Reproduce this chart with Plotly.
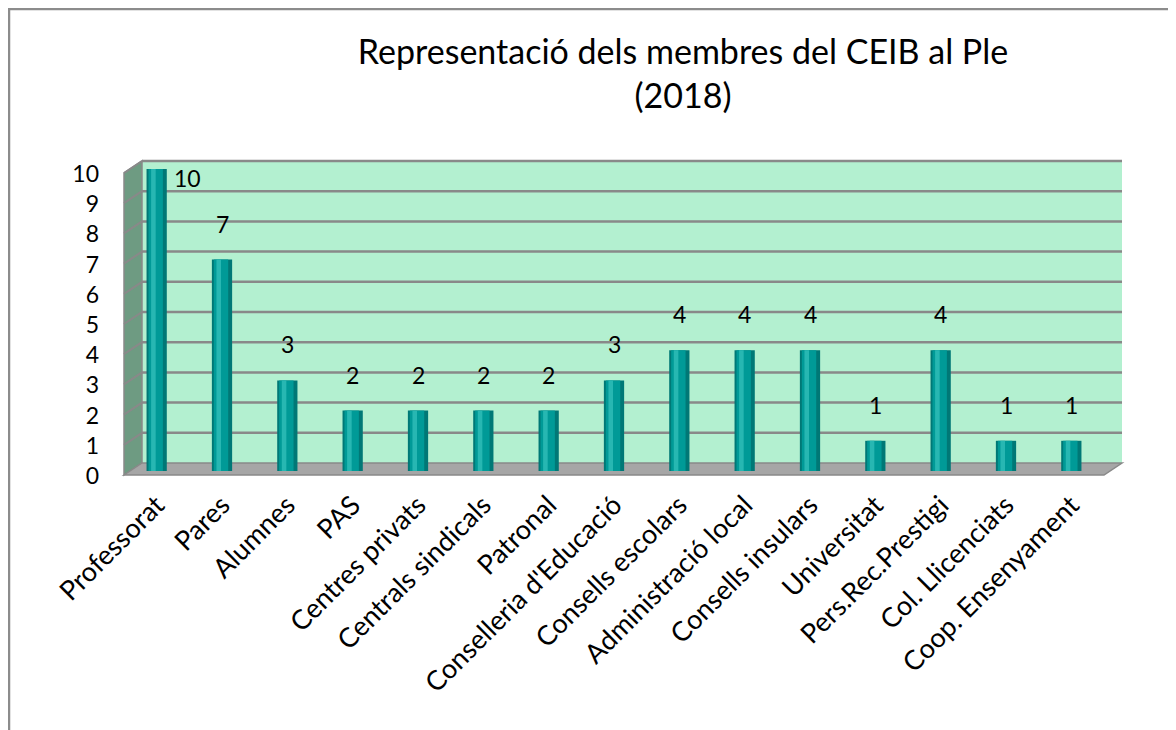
import plotly.graph_objects as go

categories = ["Professorat", "Pares", "Alumnes", "PAS", "Centres privats",
              "Centrals sindicals", "Patronal", "Conselleria d'Educació",
              "Consells escolars", "Administració local", "Consells insulars",
              "Universitat", "Pers.Rec.Prestigi", "Col. Llicenciats",
              "Coop. Ensenyament"]
values = [10, 7, 3, 2, 2, 2, 2, 3, 4, 4, 4, 1, 4, 1, 1]
y_ticks = list(range(0, 11))
title_line1 = "Representació dels membres del CEIB al Ple"
title_line2 = "(2018)"

# page body has an 8px margin: work in screen pixels, shrink the figure
OFF = 8
SCR_W, SCR_H = 1176, 730
FIG_W, FIG_H = SCR_W - OFF, SCR_H - OFF
L, R, T, B = 124, 1122, 161, 475      # screen px of the paper area
W, H = R - L, B - T

# 3D box geometry (screen px)
FRONT_X, BACK_X = 124, 142
FRONT_Y0, FRONT_Y10 = 475, 173
BACK_Y0, BACK_Y10 = 463, 161
BAR_Y0, BAR_Y10 = 471, 169


def px(x):
    return (x - L) / W


def py(y):
    return (B - y) / H


FONT = "Lato"
GRID = "#898989"
fig = go.Figure()

# cylinder-like bars: dark body, lighter core, highlight
bar_layers = [
    (0.31, -0.155, "#007876"),
    (0.22, -0.125, "#009A97"),
    (0.07, -0.085, "#27B7B2"),
]
for w, off, col in bar_layers:
    fig.add_trace(go.Bar(
        x=categories, y=values, width=w, offset=off,
        marker=dict(color=col, line=dict(width=0)),
        hoverinfo="x+y", showlegend=False,
    ))

vmax = max(values)
for c, v in zip(categories, values):
    if v == vmax:
        fig.add_annotation(x=c, y=v, text=str(v), showarrow=False,
                           xshift=31, yshift=-9,
                           font=dict(family=FONT, size=23, color="#000"))
    else:
        fig.add_annotation(x=c, y=v, text=str(v), showarrow=False,
                           yshift=36,
                           font=dict(family=FONT, size=23, color="#000"))

shapes = []
# chart frame (left and top edges)
shapes.append(dict(type="path", xref="paper", yref="paper",
                   path=f"M {px(9)} {py(740)} L {px(9)} {py(9)} L {px(1190)} {py(9)}",
                   line=dict(color="#8C8C8C", width=2.5), layer="below"))
# back wall
shapes.append(dict(type="rect", xref="paper", yref="paper",
                   x0=px(BACK_X), x1=px(R), y0=py(BACK_Y0), y1=py(BACK_Y10),
                   fillcolor="#B3F0D0", line=dict(width=0), layer="below"))
# side wall
shapes.append(dict(type="path", xref="paper", yref="paper",
                   path=(f"M {px(FRONT_X)} {py(FRONT_Y0)} L {px(BACK_X)} {py(BACK_Y0)} "
                         f"L {px(BACK_X)} {py(BACK_Y10)} L {px(FRONT_X)} {py(FRONT_Y10)} Z"),
                   fillcolor="#6E9B82", line=dict(color=GRID, width=1.5),
                   layer="below"))
# floor
shapes.append(dict(type="path", xref="paper", yref="paper",
                   path=(f"M {px(FRONT_X)} {py(FRONT_Y0)} L {px(BACK_X)} {py(BACK_Y0)} "
                         f"L {px(R)} {py(BACK_Y0)} L {px(R - (BACK_X - FRONT_X))} {py(FRONT_Y0)} Z"),
                   fillcolor="#A6A6A6", line=dict(color=GRID, width=1.5),
                   layer="below"))
# grid lines on back wall and side wall
for k in y_ticks[1:]:
    yb = BACK_Y0 - (BACK_Y0 - BACK_Y10) * k / 10
    yf = FRONT_Y0 - (FRONT_Y0 - FRONT_Y10) * k / 10
    shapes.append(dict(type="line", xref="paper", yref="paper",
                       x0=px(BACK_X), y0=py(yb), x1=px(R), y1=py(yb),
                       line=dict(color=GRID, width=2.5), layer="below"))
    shapes.append(dict(type="line", xref="paper", yref="paper",
                       x0=px(FRONT_X), y0=py(yf), x1=px(BACK_X), y1=py(yb),
                       line=dict(color=GRID, width=2), layer="below"))

fig.update_layout(
    width=FIG_W, height=FIG_H,
    margin=dict(l=L - OFF, r=FIG_W - (R - OFF), t=T - OFF,
                b=FIG_H - (B - OFF), pad=0),
    paper_bgcolor="white", plot_bgcolor="rgba(0,0,0,0)",
    barmode="overlay",
    showlegend=False,
    font=dict(family=FONT, size=22, color="#000"),
    title=dict(text=f"{title_line1}<br>{title_line2}",
               x=(683 - OFF) / FIG_W, xanchor="center",
               y=1 - (64 - OFF) / FIG_H, yanchor="middle",
               font=dict(family=FONT, size=34, color="#000")),
    xaxis=dict(domain=[0, px(R - (BACK_X - FRONT_X))], type="category",
               range=[-0.5, len(categories) - 0.5],
               tickangle=-45, showgrid=False, zeroline=False,
               showline=False, ticks="", ticklabelstandoff=12,
               tickfont=dict(family=FONT, size=27, color="#000")),
    yaxis=dict(domain=[py(BAR_Y0), py(BAR_Y10)], range=[0, 10],
               tickvals=y_ticks, showgrid=False, zeroline=False,
               showline=False, ticks="", ticklabelstandoff=24,
               ticklabelshift=5,
               tickfont=dict(family=FONT, size=23, color="#000")),
    shapes=shapes,
)

fig.write_html("out.html")
